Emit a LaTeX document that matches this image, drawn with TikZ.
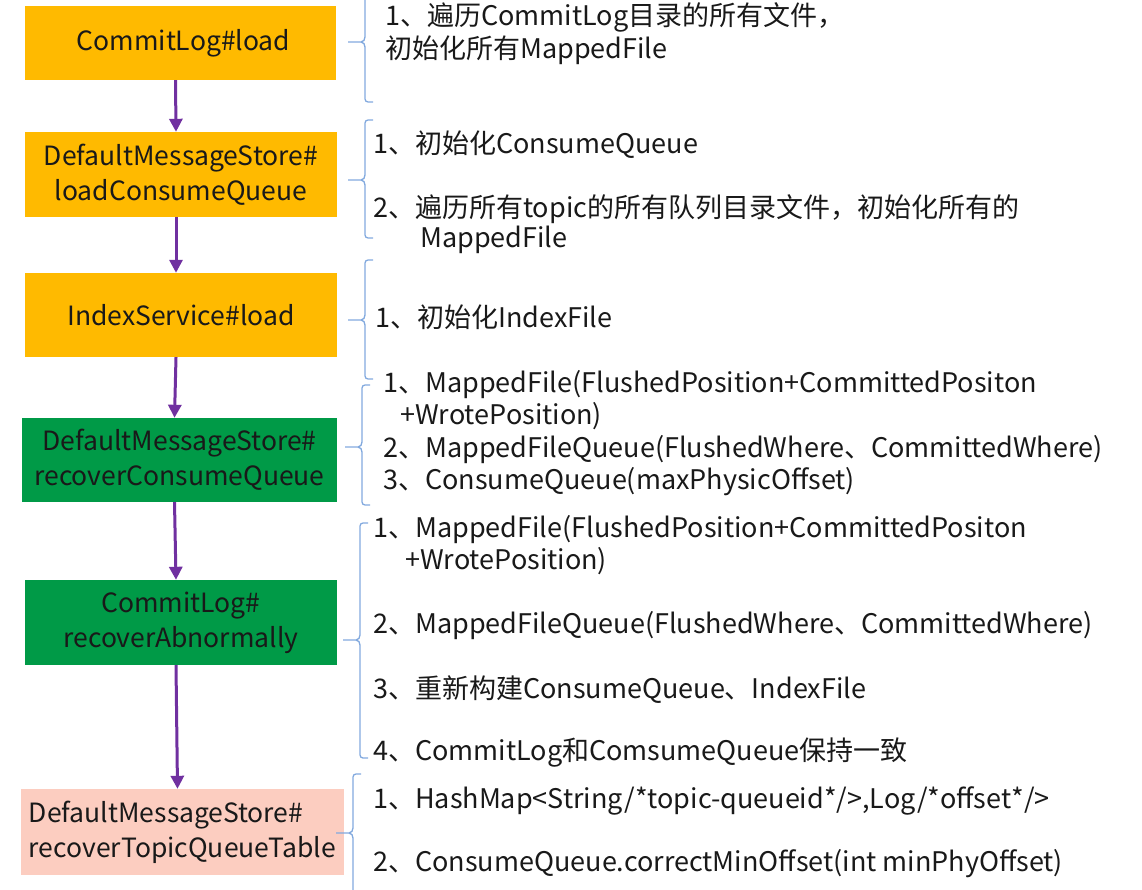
\documentclass[tikz,border=0pt]{standalone}
\usepackage{fontspec}
\setmainfont{Noto Sans CJK SC}
\usetikzlibrary{arrows.meta}

\definecolor{loadorange}{HTML}{FFBA00}
\definecolor{recovergreen}{HTML}{009A47}
\definecolor{tablepink}{HTML}{FCCDC0}
\definecolor{flowpurple}{HTML}{7030A0}
\definecolor{bracketblue}{HTML}{82A9DE}

\begin{document}
\begin{tikzpicture}[x=1pt, y=-1pt,
	stepbox/.style={inner sep=0pt, align=center, font=\fontsize{26.5}{35}\selectfont, text=black!90},
	flow/.style={line width=3pt, flowpurple, -{Triangle[width=13pt,length=13pt]}},
	bracket/.style={line width=1.3pt, bracketblue, rounded corners=3pt},
	note/.style={anchor=west, inner sep=0pt, font=\fontsize{27}{31}\selectfont, text=black!90}]

	% fix the page size to the size of the screenshot
	\useasboundingbox (0,0) rectangle (1142,890);

	% the steps, top to bottom
	\node[stepbox, fill=loadorange, minimum width=311, minimum height=74] (cl load) at (180.5,43) {\ CommitLog\#load};
	\node[stepbox, fill=loadorange, minimum width=312, minimum height=85] (dms load) at (181,174.5) {DefaultMessageStore\#\\loadConsumeQueue};
	\node[stepbox, fill=loadorange, minimum width=312, minimum height=84] (index load) at (181,315) {IndexService\#load};
	\node[stepbox, fill=recovergreen, minimum width=315, minimum height=84] (dms recover) at (179.5,460) {DefaultMessageStore\#\\recoverConsumeQueue};
	\node[stepbox, fill=recovergreen, minimum width=312, minimum height=85] (cl recover) at (181,622.5) {CommitLog\#\\recoverAbnormally};
	\node[stepbox, fill=tablepink, minimum width=323, minimum height=86, align=left] (dms table) at (182.5,832) {DefaultMessageStore\#\\recoverTopicQueueTable};

	% purple arrows between the steps
	\foreach \a/\b in {cl load/dms load, dms load/index load, index load/dms recover, dms recover/cl recover, cl recover/dms table}
		\draw[flow] ([xshift=-5pt]\a.south) -- ([xshift=-5pt]\b.north);

	% the blue brackets: x, top, middle, bottom
	\foreach \x/\t/\m/\b in {365/-4/42/102, 365/120/180/238, 365/260/320/379, 362/385/447/505, 360/523/640/758, 353/774/833/900}
	{
		\draw[bracket] (\x+8,\t) -- (\x,\t) -- (\x,\m-5);
		\draw[bracket] (\x,\m+5) -- (\x,\b) -- (\x+8,\b);
		\draw[line width=1.3pt, bracketblue] (\x,\m-5) to[out=-90,in=0] (\x-4,\m) -- (\x-17,\m);
		\draw[line width=1.3pt, bracketblue] (\x-4,\m) to[out=0,in=90] (\x,\m+5);
	}

	% the notes on the right
	\node[note] (load a) at (385,17) {1、遍历CommitLog目录的所有文件，};
	\node[note] (load b) at (385,50) {初始化所有MappedFile};
	\node[note] (cq a) at (373,145) {1、初始化ConsumeQueue};
	\node[note] (cq b) at (373,209) {2、遍历所有topic的所有队列目录文件，初始化所有的};
	\node[note] (cq c) at (420,240) {MappedFile};
	\node[note] (index a) at (375,317) {1、初始化IndexFile};
	\node[note] (rcq a) at (383,385) {1、MappedFile(FlushedPosition+CommittedPositon};
	\node[note] (rcq b) at (400,416) {+WrotePosition)};
	\node[note] (rcq c) at (383,450) {2、MappedFileQueue(FlushedWhere、CommittedWhere)};
	\node[note] (rcq d) at (383,482) {3、ConsumeQueue(maxPhysicOffset)};
	\node[note] (rab a) at (373,530) {1、MappedFile(FlushedPosition+CommittedPositon};
	\node[note] (rab b) at (405,561) {+WrotePosition)};
	\node[note] (rab c) at (373,626) {2、MappedFileQueue(FlushedWhere、CommittedWhere)};
	\node[note] (rab d) at (373,690) {3、重新构建ConsumeQueue、IndexFile};
	\node[note] (rab e) at (373,753) {4、CommitLog和ComsumeQueue保持一致};
	\node[note] (table a) at (373,801) {1、HashMap<String/*topic-queueid*/>,Log/*offset*/>};
	\node[note] (table b) at (373,864) {2、ConsumeQueue.correctMinOffset(int minPhyOffset)};

\end{tikzpicture}
\end{document}
